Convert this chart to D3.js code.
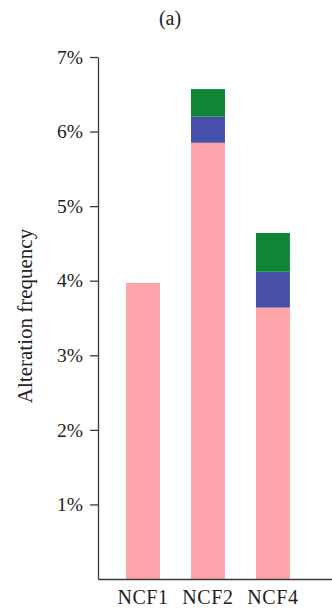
<!DOCTYPE html>
<html>
<head>
<meta charset="utf-8">
<script src="https://cdn.jsdelivr.net/npm/d3@7"></script>
<style>
  html, body { margin: 0; padding: 0; background: #fff; }
  svg { display: block; }
  text { font-family: "Liberation Serif", "Times New Roman", serif; fill: #222; }
</style>
</head>
<body>
<div id="chart"></div>
<script>
// Alteration frequency per gene, split by alteration type (percent)
const genes = ["NCF1", "NCF2", "NCF4"];
const seriesNames = ["type1", "type2", "type3"];
const type1 = [3.97, 5.85, 3.64];
const type2 = [0, 0.35, 0.48];
const type3 = [0, 0.37, 0.52];
const yTicks = [1, 2, 3, 4, 5, 6, 7];
const colors = ["#ffa3aa", "#4650a8", "#108536"];

const W = 332, H = 612;
const svg = d3.select("#chart").append("svg").attr("width", W).attr("height", H);

const x0 = 98, x1 = 332, yTop = 57, yBottom = 579;

const x = d3.scaleBand().domain(genes).range([x0, x1])
  .paddingInner(0.477).paddingOuter(0.54).align(0.40);
const y = d3.scaleLinear().domain([0, 7]).range([yBottom, yTop]);

const table = genes.map((g, i) => ({ gene: g, type1: type1[i], type2: type2[i], type3: type3[i] }));
const stacked = d3.stack().keys(seriesNames)(table);

svg.append("g").selectAll("g").data(stacked).join("g")
  .attr("fill", (d, i) => colors[i])
  .selectAll("rect").data(d => d.filter(p => p[1] > p[0])).join("rect")
  .attr("x", d => x(d.data.gene))
  .attr("width", x.bandwidth())
  .attr("y", d => y(d[1]))
  .attr("height", d => y(d[0]) - y(d[1]));

// Y axis
const yAxis = svg.append("g").attr("transform", `translate(${x0},0)`)
  .call(d3.axisLeft(y).tickValues(yTicks).tickFormat(d => d + "%").tickSize(8).tickPadding(7).tickSizeOuter(0));
yAxis.selectAll("path, line").attr("stroke", "#3a3a3a").attr("stroke-width", 1.3);
yAxis.selectAll("text").style("font-size", "19.5px").attr("font-family", null).attr("fill", "#222");

// X axis baseline and labels
const xAxis = svg.append("g").attr("transform", `translate(0,${yBottom})`)
  .call(d3.axisBottom(x).tickSize(0).tickPadding(11).tickSizeOuter(0));
xAxis.select(".domain").attr("stroke", "#3a3a3a").attr("stroke-width", 1.3);
xAxis.selectAll("text").style("font-size", "20px").style("letter-spacing", "0.6px")
  .attr("font-family", null).attr("fill", "#222");

// Axis title
svg.append("text")
  .attr("transform", `translate(32,316) rotate(-90)`)
  .attr("text-anchor", "middle")
  .style("font-size", "21px")
  .text("Alteration frequency");

// Panel label
svg.append("text")
  .attr("x", 170).attr("y", 25)
  .attr("text-anchor", "middle")
  .style("font-size", "20px")
  .text("(a)");
</script>
</body>
</html>
